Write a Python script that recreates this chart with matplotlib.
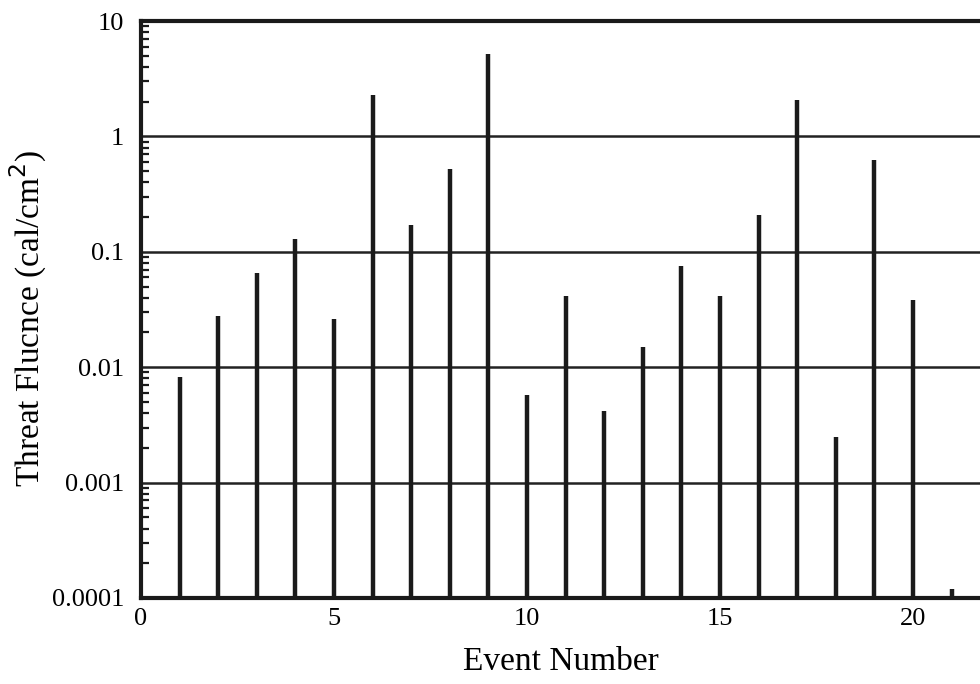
import matplotlib.pyplot as plt
from matplotlib.ticker import FixedLocator, LogLocator, NullFormatter

plt.rcParams['font.family'] = ['Liberation Serif', 'DejaVu Serif']

events = [1, 2, 3, 4, 5, 6, 7, 8, 9, 10, 11, 12, 13, 14, 15, 16, 17, 18, 19, 20, 21]
fluence = [0.0082, 0.028, 0.066, 0.13, 0.026, 2.3, 0.17, 0.52, 5.2, 0.0057,
           0.041, 0.0042, 0.015, 0.076, 0.041, 0.21, 2.05, 0.0025, 0.62, 0.038, 0.00012]
ytick_vals = [0.0001, 0.001, 0.01, 0.1, 1, 10]
ytick_labels = ["0.0001", "0.001", "0.01", "0.1", "1", "10"]
xtick_vals = [0, 5, 10, 15, 20]

fig = plt.figure(figsize=(9.8, 6.84), dpi=100)
ax = fig.add_axes([141 / 980, 1 - 598 / 684, 1 - 141 / 980, (598 - 21) / 684])

ax.set_yscale("log")
ax.set_ylim(0.0001, 10)
ax.set_xlim(0, (980 - 141) / 38.6)

for v in ytick_vals[1:-1]:
    ax.axhline(v, color="#222222", lw=1.8, zorder=1)

ax.vlines(events, 0.0001, fluence, color="#1a1a1a", lw=3.2, zorder=2)

ax.spines["right"].set_visible(False)
for s in ax.spines.values():
    s.set_color("#1a1a1a")
    s.set_linewidth(3)

ax.yaxis.set_major_locator(FixedLocator(ytick_vals))
ax.set_yticklabels(ytick_labels, fontsize=19)
ax.yaxis.set_minor_locator(LogLocator(base=10, subs=range(2, 10)))
ax.yaxis.set_minor_formatter(NullFormatter())
ax.tick_params(axis="y", which="major", direction="in", length=0, pad=12)
ax.tick_params(axis="y", which="minor", direction="in", length=6, width=1.6, color="#1a1a1a")

ax.set_xticks(xtick_vals)
ax.set_xticklabels([str(v) for v in xtick_vals], fontsize=19)
ax.tick_params(axis="x", length=0, pad=7)

ax.set_xlabel("Event Number", fontsize=24, labelpad=12)
ax.set_ylabel("Threat Flucnce (cal/cm$^2$)", fontsize=24)
ax.yaxis.set_label_coords(-0.11, 0.485)

fig.savefig("out.png", dpi=100)
